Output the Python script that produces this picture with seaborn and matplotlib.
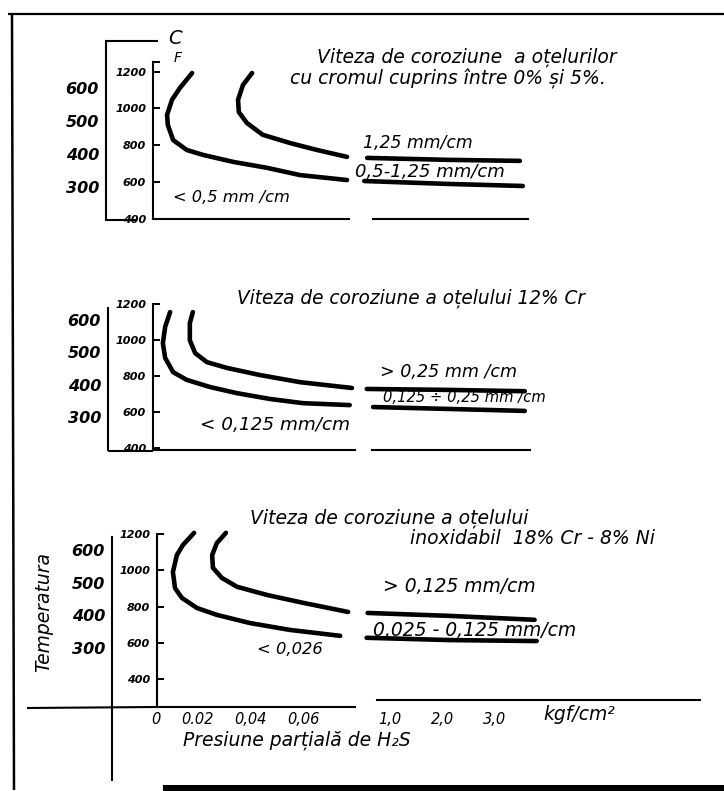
import matplotlib
matplotlib.use("Agg")
import matplotlib.pyplot as plt
from matplotlib.lines import Line2D
from matplotlib.patches import Rectangle
from matplotlib.transforms import ScaledTranslation
import seaborn as sns

sns.set_theme(style="white")
plt.rcParams["font.family"] = ["DejaVu Sans"]
plt.rcParams["font.style"] = "italic"

W, H = 724, 791

# ---------------- data ----------------
c_ticks = [300, 400, 500, 600]
f_ticks = [400, 600, 800, 1000, 1200]

lo_ticks_12 = [0.01, 0.02, 0.03, 0.04, 0.05]
hi_ticks_12 = [1, 2, 3, 4]
lo_ticks_3 = [0, 0.02, 0.04, 0.06]
lo_labels_3 = ["0", "0.02", "0,04", "0,06"]
hi_ticks_3 = [1, 2, 3]
hi_labels_3 = ["1,0", "2,0", "3,0"]

# Panel 1: 0-5 % Cr steels
p1_a_lo_p = [0.0103, 0.0071, 0.0050, 0.0037, 0.0039, 0.0053, 0.0089, 0.0132, 0.0211, 0.0300, 0.0387, 0.0511]
p1_a_lo_t = [645, 600, 564, 518, 488, 442, 412, 397, 376, 358, 336, 321]
p1_a_hi_p = [0.52, 2.84, 4.81]
p1_a_hi_t = [318, 309, 303]
p1_b_lo_p = [0.0261, 0.0237, 0.0224, 0.0226, 0.0247, 0.0289, 0.0361, 0.0432, 0.0511]
p1_b_lo_t = [645, 609, 564, 527, 494, 458, 433, 412, 391]
p1_b_hi_p = [0.60, 2.84, 4.73]
p1_b_hi_t = [388, 382, 379]

# Panel 2: 12 % Cr steel
p2_a_lo_p = [0.0045, 0.0032, 0.0026, 0.0032, 0.0053, 0.0089, 0.0150, 0.0221, 0.0308, 0.0395, 0.0518]
p2_a_lo_t = [625, 579, 529, 483, 439, 415, 393, 374, 356, 343, 337]
p2_a_hi_p = [0.76, 2.84, 4.86]
p2_a_hi_t = [331, 325, 319]
p2_b_lo_p = [0.0105, 0.0097, 0.0097, 0.0111, 0.0142, 0.0195, 0.0282, 0.0387, 0.0524]
p2_b_lo_t = [625, 591, 538, 498, 470, 452, 430, 408, 390]
p2_b_hi_p = [0.59, 2.84, 4.86]
p2_b_hi_t = [387, 384, 380]

# Panel 3: 18 % Cr - 8 % Ni stainless steel
p3_a_lo_p = [0.0140, 0.0098, 0.0075, 0.0060, 0.0068, 0.0094, 0.0151, 0.0226, 0.0351, 0.0502, 0.0691]
p3_a_lo_t = [652, 615, 584, 532, 483, 453, 422, 401, 376, 355, 337]
p3_a_hi_p = [0.40, 2.0, 3.67]
p3_a_hi_t = [331, 324, 321]
p3_b_lo_p = [0.0260, 0.0226, 0.0208, 0.0211, 0.0245, 0.0302, 0.0415, 0.0551, 0.0721]
p3_b_lo_t = [652, 621, 584, 545, 514, 487, 462, 438, 410]
p3_b_hi_p = [0.42, 2.0, 3.63]
p3_b_hi_t = [407, 398, 386]


def c2f(c):
    return c * 9.0 / 5.0 + 32.0


def f2c(f):
    return (f - 32.0) * 5.0 / 9.0


# ---------------- layout ----------------
PT = 0.72  # points per pixel at 100 dpi

panels = [
    dict(yt=41, yb=219, ylim=(203, 742), lo_x=(153, 355), lo_lim=(0, 0.0532),
         hi_x=(361.6, 528), hi_lim=(0.45, 4.95), coff=47, cb=(203, 742), fb=(203, 679),
         lo_sp=(0, 0.0515), hi_sp=(0.75, 4.95), lo_pos=None, hi_pos=None,
         lo_ticks=lo_ticks_12, hi_ticks=hi_ticks_12, lo_labels=None, hi_labels=None,
         curves=[(p1_a_lo_p, p1_a_lo_t, p1_a_hi_p, p1_a_hi_t),
                 (p1_b_lo_p, p1_b_lo_t, p1_b_hi_p, p1_b_hi_t)]),
    dict(yt=304, yb=450, ylim=(198, 650), lo_x=(153, 355), lo_lim=(0, 0.0532),
         hi_x=(361.6, 530), hi_lim=(0.45, 5.0), coff=45, cb=(198, 637), fb=(198, 649),
         lo_sp=(0, 0.0532), hi_sp=(0.73, 5.0), lo_pos=None, hi_pos=None,
         lo_ticks=lo_ticks_12, hi_ticks=hi_ticks_12, lo_labels=None, hi_labels=None,
         curves=[(p2_a_lo_p, p2_a_lo_t, p2_a_hi_p, p2_a_hi_t),
                 (p2_b_lo_p, p2_b_lo_t, p2_b_hi_p, p2_b_hi_t)]),
    dict(yt=525, yb=780, ylim=(-104, 676), lo_x=(157, 355), lo_lim=(0, 0.0747),
         hi_x=(364, 700), hi_lim=(0.35, 6.81), coff=45, cb=(-104, 639), fb=(120, 649),
         lo_sp=(0, 0.0747), hi_sp=(0.6, 6.81), lo_pos=120, hi_pos=141,
         lo_ticks=lo_ticks_3, hi_ticks=hi_ticks_3, lo_labels=lo_labels_3, hi_labels=hi_labels_3,
         curves=[(p3_a_lo_p, p3_a_lo_t, p3_a_hi_p, p3_a_hi_t),
                 (p3_b_lo_p, p3_b_lo_t, p3_b_hi_p, p3_b_hi_t)]),
]

fig = plt.figure(figsize=(W / 100, H / 100), dpi=100)
fig.patch.set_facecolor("white")

LW_AX = 1.5
LW_CURVE = 3.3


def rect(x0, x1, yt, yb):
    return [x0 / W, 1 - yb / H, (x1 - x0) / W, (yb - yt) / H]


def style_axis(ax):
    ax.patch.set_alpha(0)
    for s in ax.spines.values():
        s.set_color("black")
        s.set_linewidth(LW_AX)


for pn in panels:
    ax_lo = fig.add_axes(rect(pn["lo_x"][0], pn["lo_x"][1], pn["yt"], pn["yb"]))
    ax_hi = fig.add_axes(rect(pn["hi_x"][0], pn["hi_x"][1], pn["yt"], pn["yb"]))
    for ax, lim in ((ax_lo, pn["lo_lim"]), (ax_hi, pn["hi_lim"])):
        style_axis(ax)
        ax.set_xlim(*lim)
        ax.set_ylim(*pn["ylim"])
        ax.spines["top"].set_visible(False)
        ax.spines["right"].set_visible(False)

    for (alp, alt, ahp, aht) in pn["curves"]:
        sns.lineplot(x=alp, y=alt, sort=False, estimator=None, ax=ax_lo, color="black",
                     lw=LW_CURVE, solid_capstyle="round", solid_joinstyle="round",
                     clip_on=False)
        sns.lineplot(x=ahp, y=aht, sort=False, estimator=None, ax=ax_hi, color="black",
                     lw=LW_CURVE, solid_capstyle="round", solid_joinstyle="round",
                     clip_on=False)

    # Celsius axis (outer)
    ax_lo.spines["left"].set_position(("outward", pn["coff"] * PT))
    ax_lo.spines["left"].set_bounds(*pn["cb"])
    ax_lo.set_yticks(c_ticks)
    ax_lo.tick_params(axis="y", direction="in", length=5, width=1.4, pad=5,
                      labelsize=11.5, colors="black")
    for lab in ax_lo.get_yticklabels():
        lab.set_fontweight("bold")

    # Fahrenheit axis (inner)
    sec = ax_lo.secondary_yaxis(0.0, functions=(c2f, f2c))
    sec.set_yticks(f_ticks)
    sec.tick_params(axis="y", direction="in", length=5, width=1.4, pad=5,
                    labelsize=8, colors="black")
    for lab in sec.get_yticklabels():
        lab.set_fontweight("bold")
    for side in ("left", "right"):
        sec.spines[side].set_bounds(c2f(pn["fb"][0]), c2f(pn["fb"][1]))
        sec.spines[side].set_linewidth(LW_AX)
        sec.spines[side].set_color("black")

    # pressure axes (broken)
    ax_hi.spines["left"].set_visible(False)
    ax_hi.set_yticks([])
    ax_lo.spines["bottom"].set_bounds(*pn["lo_sp"])
    ax_hi.spines["bottom"].set_bounds(*pn["hi_sp"])
    if pn["lo_pos"] is not None:
        ax_lo.spines["bottom"].set_position(("data", pn["lo_pos"]))
        ax_hi.spines["bottom"].set_position(("data", pn["hi_pos"]))
    ax_lo.set_xticks(pn["lo_ticks"])
    ax_hi.set_xticks(pn["hi_ticks"])
    if pn["lo_labels"] is None:
        ax_lo.tick_params(axis="x", direction="in", length=5, width=1.4, labelbottom=False)
        ax_hi.tick_params(axis="x", direction="in", length=5, width=1.4, labelbottom=False)
    else:
        ax_lo.set_xticklabels(pn["lo_labels"])
        ax_hi.set_xticklabels(pn["hi_labels"])
        ax_lo.tick_params(axis="x", direction="in", length=5, width=1.4, pad=3.5,
                          labelsize=10.5, colors="black")
        ax_hi.tick_params(axis="x", direction="in", length=5, width=1.4, pad=8.5,
                          labelsize=10.5, colors="black")
        shift = ScaledTranslation(4 / 100, 0, fig.dpi_scale_trans)
        for ax in (ax_lo, ax_hi):
            for lab in ax.get_xticklabels():
                lab.set_ha("right")
                lab.set_transform(lab.get_transform() + shift)
    for ax in (ax_lo, ax_hi):
        ax.set_xlabel("")
        ax.set_ylabel("")


# ---------------- drafting lines / page frame ----------------
def fline(xs, ys, lw=LW_AX):
    fig.add_artist(Line2D([x / W for x in xs], [1 - y / H for y in ys],
                          color="black", lw=lw, transform=fig.transFigure,
                          solid_capstyle="butt"))


fline([8, 724], [14, 14], 1.6)
fline([12, 14], [14, 790], 1.8)
fline([105, 158], [41, 41])
fline([152, 160], [62, 62])
fline([105, 137], [220, 220])
fline([108, 153], [451, 451])
fline([27, 157], [708, 707])
fig.add_artist(Rectangle((163 / W, 0), 1 - 163 / W, 6 / H, transform=fig.transFigure,
                         color="black", lw=0))

# ---------------- texts ----------------
texts = []
MAX_FS = 13.5


def put(s, x0, x1, yc, base=12):
    t = fig.text(x0 / W, 1 - yc / H, s, ha="left", va="center",
                 fontsize=base, color="black")
    texts.append((t, x1 - x0, base))


put("Viteza de coroziune  a oțelurilor", 317, 642, 57)
put("cu cromul cuprins între 0% și 5%.", 290, 678, 79)
put("1,25 mm/cm", 363, 473, 143)
put("0,5-1,25 mm/cm", 355, 505, 172)
put("< 0,5 mm /cm", 173, 290, 198)

put("Viteza de coroziune a oțelului 12% Cr", 237, 585, 298)
put("> 0,25 mm /cm", 380, 517, 372)
put("0,125 ÷ 0,25 mm /cm", 383, 545, 398)
put("< 0,125 mm/cm", 200, 350, 425)

put("Viteza de coroziune a oțelului", 250, 582, 518)
put("inoxidabil  18% Cr - 8% Ni", 410, 675, 538)
put("> 0,125 mm/cm", 383, 537, 587)
put("0,025 - 0,125 mm/cm", 373, 578, 630)
put("< 0,026", 257, 323, 650)
put("kgf/cm²", 543, 640, 715)
put("Presiune parțială de H₂S", 183, 463, 740)

fig.text(168 / W, 1 - 38 / H, "C", ha="left", va="center", fontsize=14, color="black")
fig.text(174 / W, 1 - 58 / H, "F", ha="left", va="center", fontsize=10, color="black")

t_temp = fig.text(44 / W, 1 - 612 / H, "Temperatura", ha="center", va="center",
                  rotation=90, fontsize=13, color="black")

fig.canvas.draw()
r = fig.canvas.get_renderer()
for t, wpx, base in texts:
    w = t.get_window_extent(r).width
    t.set_fontsize(min(MAX_FS, base * wpx / w))
h = t_temp.get_window_extent(r).height
t_temp.set_fontsize(min(MAX_FS, 13 * 130 / h))

fig.savefig("out.png", dpi=100, facecolor="white")
